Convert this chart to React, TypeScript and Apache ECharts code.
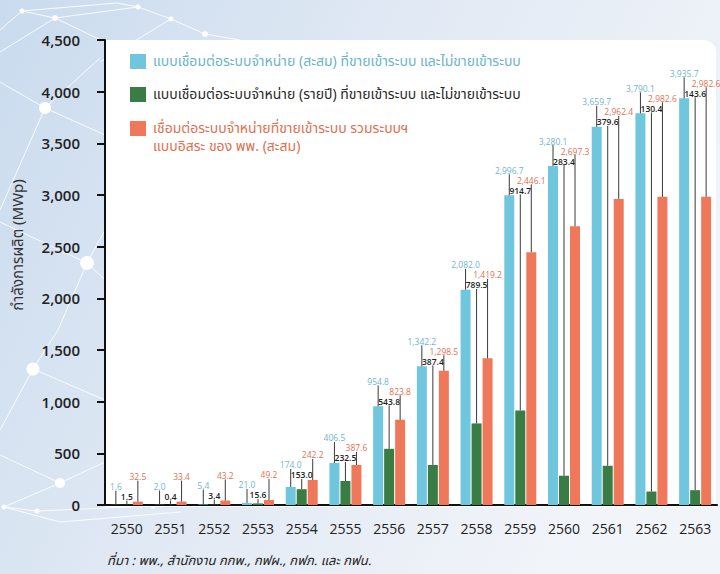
import React, { useEffect, useRef } from "react";
import * as echarts from "echarts";

const years = ["2550", "2551", "2552", "2553", "2554", "2555", "2556", "2557", "2558", "2559", "2560", "2561", "2562", "2563"];
const cumulative = [1.6, 2.0, 5.4, 21.0, 174.0, 406.5, 954.8, 1342.2, 2082.0, 2996.7, 3280.1, 3659.7, 3790.1, 3935.7];
const annual = [1.5, 0.4, 3.4, 15.6, 153.0, 232.5, 543.8, 387.4, 789.5, 914.7, 283.4, 379.6, 130.4, 143.6];
const totalIncl = [32.5, 33.4, 43.2, 49.2, 242.2, 387.6, 823.8, 1298.5, 1419.2, 2446.1, 2697.3, 2962.4, 2982.6, 2982.6];

const seriesNames = [
  "แบบเชื่อมต่อระบบจำหน่าย (สะสม) ที่ขายเข้าระบบ และไม่ขายเข้าระบบ",
  "แบบเชื่อมต่อระบบจำหน่าย (รายปี) ที่ขายเข้าระบบ และไม่ขายเข้าระบบ",
  "เชื่อมต่อระบบจำหน่ายที่ขายเข้าระบบ รวมระบบฯ",
];
const seriesNameLine2 = "แบบอิสระ ของ พพ. (สะสม)";
const yTitle = "กำลังการผลิต (MWp)";
const sourceNote = "ที่มา : พพ., สำนักงาน กกพ., กฟผ., กฟภ. และ กฟน.";

const barColors = ["#70C7DD", "#3A7D44", "#F0785A"];
const labelColors = ["#6FB5CB", "#1E1E1E", "#E2714F"];
const legendTextColors = ["#6BB5CA", "#2A2A2A", "#E0704F"];
const FONT = "'Noto Sans Thai', 'Noto Sans', 'Open Sans', sans-serif";

const fmt = (v: number) =>
  v.toLocaleString("en-US", { minimumFractionDigits: 1, maximumFractionDigits: 1 });

export default function App() {
  const ref = useRef<HTMLDivElement>(null);
  useEffect(() => {
    if (!ref.current) return;
    const chart = echarts.init(ref.current, null, { renderer: "svg" });
    const all = [cumulative, annual, totalIncl];
    const BAR_W = 10;
    const STEP = 11;

    const white = "rgba(255,255,255,0.85)";
    const netLines: number[][] = [
      [0, 30, 22, 11], [22, 11, 117, 3], [117, 3, 138, 7], [22, 11, 55, 18], [55, 18, 138, 7],
      [138, 7, 171, 19], [171, 19, 205, 34], [205, 34, 240, 40], [55, 18, 0, 52], [55, 18, 105, 42],
      [171, 19, 100, 62], [45, 108, 0, 82], [45, 108, 105, 135], [45, 108, 0, 210], [45, 108, 100, 58],
      [87, 263, 105, 230], [87, 263, 0, 222], [87, 263, 105, 280], [87, 263, 58, 330],
      [33, 369, 0, 430], [33, 369, 105, 400], [33, 369, 58, 330], [60, 483, 0, 455],
      [60, 483, 105, 462], [60, 483, 4, 507], [4, 507, 37, 511], [37, 511, 153, 506], [4, 507, 60, 522],
      [60, 522, 180, 512],
    ];
    const dots: number[][] = [
      [22, 11, 2.5], [55, 18, 3], [138, 7, 2.5], [171, 19, 2.5], [205, 34, 3],
      [45, 108, 6], [87, 263, 7], [33, 369, 6.5], [60, 483, 5], [4, 507, 2.5], [37, 511, 2.5], [153, 506, 2.5],
    ];

    const graphics: any[] = [];
    netLines.forEach((l) =>
      graphics.push({
        type: "line",
        z: -3,
        silent: true,
        shape: { x1: l[0], y1: l[1], x2: l[2], y2: l[3] },
        style: { stroke: white, lineWidth: 1 },
      })
    );
    dots.forEach((d) =>
      graphics.push({
        type: "circle",
        z: -3,
        silent: true,
        shape: { cx: d[0], cy: d[1], r: d[2] },
        style: { fill: "#ffffff" },
      })
    );
    graphics.push({
      type: "rect",
      z: -2,
      silent: true,
      shape: { x: 105, y: 40, width: 611, height: 467, r: [0, 12, 0, 0] },
      style: { fill: "#ffffff" },
    });
    // legend
    const legendY = [54, 87, 121];
    seriesNames.forEach((name, k) => {
      graphics.push({
        type: "rect",
        z: 20,
        shape: { x: 130, y: legendY[k], width: 16, height: 15 },
        style: { fill: barColors[k] },
      });
      graphics.push({
        type: "text",
        z: 20,
        x: 153,
        y: legendY[k] + 7.5,
        style: {
          text: name,
          fill: legendTextColors[k],
          font: `14px ${FONT}`,
          align: "left",
          verticalAlign: "middle",
        },
      });
    });
    graphics.push({
      type: "text",
      z: 20,
      x: 153,
      y: legendY[2] + 25.5,
      style: {
        text: seriesNameLine2,
        fill: legendTextColors[2],
        font: `14px ${FONT}`,
        align: "left",
        verticalAlign: "middle",
      },
    });
    graphics.push({
      type: "text",
      z: 20,
      x: 18,
      y: 245,
      rotation: Math.PI / 2,
      style: {
        text: yTitle,
        fill: "#333333",
        font: `15px ${FONT}`,
        align: "center",
        verticalAlign: "middle",
      },
    });
    graphics.push({
      type: "text",
      z: 20,
      x: 107,
      y: 561,
      style: {
        text: sourceNote,
        fill: "#222222",
        font: `italic 13px ${FONT}`,
        align: "left",
        verticalAlign: "middle",
      },
    });

    const option: any = {
      animation: false,
      backgroundColor: {
        type: "linear",
        x: 0,
        y: 0,
        x2: 1,
        y2: 0.4,
        colorStops: [
          { offset: 0, color: "#C9DBEE" },
          { offset: 0.5, color: "#E1E9F4" },
          { offset: 1, color: "#F1F4F9" },
        ],
      },
      textStyle: { fontFamily: FONT },
      grid: { left: 105, right: 3, top: 40, bottom: 69, containLabel: false },
      graphic: graphics,
      xAxis: {
        type: "category",
        data: years,
        axisLine: { show: true, lineStyle: { color: "#111", width: 2 } },
        axisTick: { show: false },
        axisLabel: { color: "#222", fontSize: 14, fontWeight: 500, margin: 16, fontFamily: "'Open Sans', sans-serif" },
      },
      yAxis: {
        type: "value",
        min: 0,
        max: 4500,
        interval: 500,
        splitLine: { show: false },
        axisLine: { show: true, lineStyle: { color: "#111", width: 2 } },
        axisTick: { show: true, length: 8, lineStyle: { color: "#111", width: 2 } },
        axisLabel: {
          color: "#222",
          fontSize: 15,
          fontWeight: 600,
          margin: 25,
          fontFamily: "'Open Sans', sans-serif",
          formatter: (v: number) => v.toLocaleString("en-US"),
        },
      },
      series: [
        ...all.map((arr, k) => ({
          type: "bar",
          name: seriesNames[k],
          data: arr,
          barWidth: BAR_W,
          barGap: "10%",
          itemStyle: { color: barColors[k] },
          z: 2,
        })),
        {
          type: "custom",
          z: 10,
          data: years.map((_, i) => [i, Math.max(cumulative[i], annual[i], totalIncl[i])]),
          renderItem: (params: any, api: any) => {
            const i = params.dataIndex;
            const vals = [cumulative[i], annual[i], totalIncl[i]];
            const maxV = Math.max(...vals);
            const topY = api.coord([i, maxV])[1];
            const cx = api.coord([i, 0])[0];
            const order = [0, 1, 2].sort((a, b) => vals[b] - vals[a]);
            const rank: number[] = [];
            order.forEach((k, r) => (rank[k] = r));
            const offsets = [25, 15, 5];
            const children: any[] = [];
            vals.forEach((v, k) => {
              const bx = cx + (k - 1) * STEP;
              const by = api.coord([i, v])[1];
              const ly = topY - offsets[rank[k]];
              children.push({
                type: "line",
                shape: { x1: bx, y1: ly + 4, x2: bx, y2: by },
                style: { stroke: "#3a3a3a", lineWidth: 1 },
              });
              children.push({
                type: "text",
                x: Math.min(bx, 706),
                y: ly,
                style: {
                  text: fmt(v),
                  fill: labelColors[k],
                  font: `${k === 1 ? 600 : 400} 8.5px 'Open Sans', sans-serif`,
                  align: "center",
                  verticalAlign: "middle",
                },
              });
            });
            return { type: "group", children };
          },
        },
      ],
    };
    chart.setOption(option);
    return () => chart.dispose();
  }, []);
  return (
    <div
      ref={ref}
      style={{ position: "fixed", left: 0, top: 0, width: 720, height: 574 }}
    />
  );
}
